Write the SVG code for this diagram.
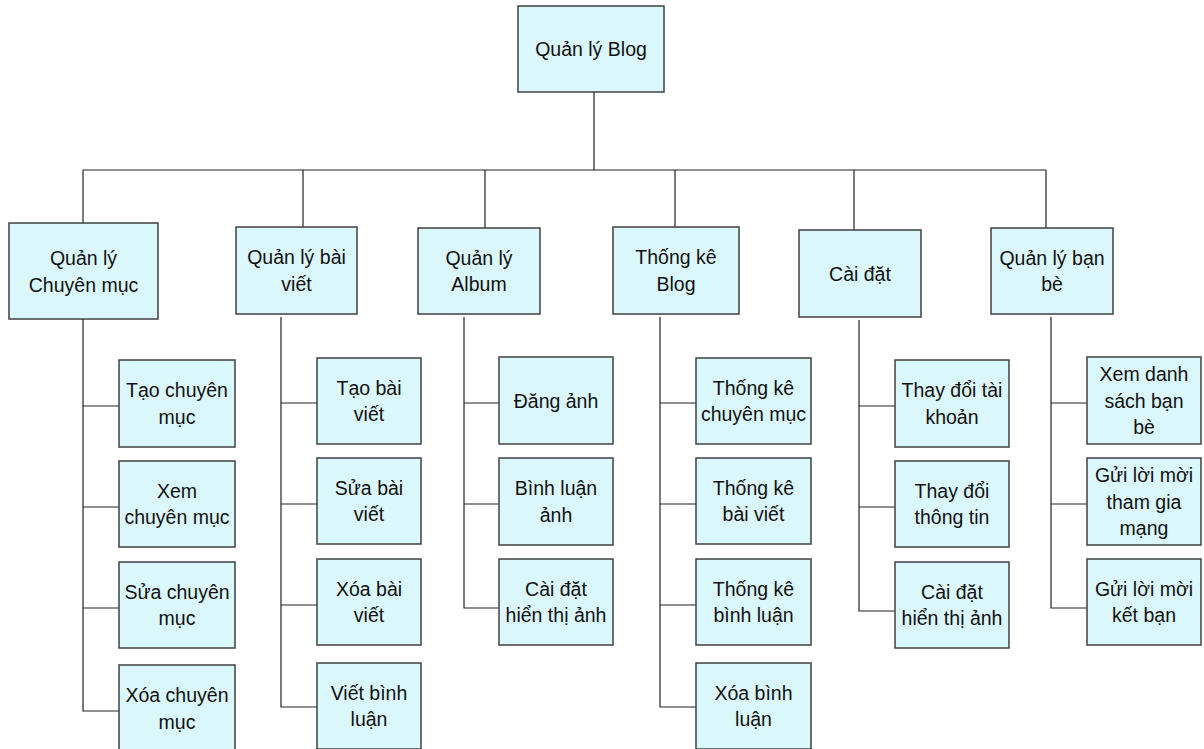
<svg xmlns="http://www.w3.org/2000/svg" width="1204" height="749" viewBox="0 0 1204 749">
  <style>
    .box { fill: #daf7fb; stroke: #404040; stroke-width: 1.5; }
    .lbl { font-family: "Liberation Sans", Arial, sans-serif; font-size: 19.5px; fill: #111; text-anchor: middle; }
    .wire { stroke: #222; stroke-width: 1.2; fill: none; }
    .trunk { stroke: #777; stroke-width: 2; fill: none; }
  </style>
  <rect width="1204" height="749" fill="#ffffff"/>

  <!-- connectors -->
  <g id="connectors">
    <line class="trunk" x1="594" y1="92" x2="594" y2="170"/>
    <line class="wire" x1="83" y1="170" x2="1046" y2="170"/>
    <!-- drops to level 1 -->
    <line class="wire" x1="83" y1="170" x2="83" y2="223"/>
    <line class="wire" x1="303" y1="170" x2="303" y2="227"/>
    <line class="wire" x1="485" y1="170" x2="485" y2="228"/>
    <line class="wire" x1="675" y1="170" x2="675" y2="227"/>
    <line class="wire" x1="854" y1="170" x2="854" y2="230"/>
    <line class="wire" x1="1046" y1="170" x2="1046" y2="228"/>
    <!-- Quản lý Chuyên mục -->
    <polyline class="wire" points="83,319 83,711 119,711"/>
    <line class="wire" x1="83" y1="406" x2="119" y2="406"/>
    <line class="wire" x1="83" y1="507" x2="119" y2="507"/>
    <line class="wire" x1="83" y1="608" x2="119" y2="608"/>
    <!-- Quản lý bài viết -->
    <polyline class="wire" points="281,317 281,707 317,707"/>
    <line class="wire" x1="281" y1="403" x2="317" y2="403"/>
    <line class="wire" x1="281" y1="504" x2="317" y2="504"/>
    <line class="wire" x1="281" y1="605" x2="317" y2="605"/>
    <!-- Quản lý Album -->
    <polyline class="wire" points="464,317 464,608 499,608"/>
    <line class="wire" x1="464" y1="403" x2="499" y2="403"/>
    <line class="wire" x1="464" y1="504" x2="499" y2="504"/>
    <!-- Thống kê Blog -->
    <polyline class="wire" points="660,317 660,707 696,707"/>
    <line class="wire" x1="660" y1="403" x2="696" y2="403"/>
    <line class="wire" x1="660" y1="504" x2="696" y2="504"/>
    <line class="wire" x1="660" y1="605" x2="696" y2="605"/>
    <!-- Cài đặt -->
    <polyline class="wire" points="859,320 859,611 895,611"/>
    <line class="wire" x1="859" y1="406" x2="895" y2="406"/>
    <line class="wire" x1="859" y1="507" x2="895" y2="507"/>
    <!-- Quản lý bạn bè -->
    <polyline class="wire" points="1051,317 1051,608 1087,608"/>
    <line class="wire" x1="1051" y1="403" x2="1087" y2="403"/>
    <line class="wire" x1="1051" y1="504" x2="1087" y2="504"/>
  </g>

  <!-- root -->
  <g id="root">
    <rect class="box" x="518" y="6" width="146" height="86"/>
    <text class="lbl" x="591" y="56">Quản lý Blog</text>
  </g>

  <!-- level 1 -->
  <g id="ql-chuyen-muc">
    <rect class="box" x="9" y="223" width="149" height="96"/>
    <text class="lbl" x="83.5" y="265">Quản lý</text>
    <text class="lbl" x="83.5" y="291.5">Chuyên mục</text>
  </g>
  <g id="ql-bai-viet">
    <rect class="box" x="236" y="227" width="121" height="87"/>
    <text class="lbl" x="296.5" y="264.25">Quản lý bài</text>
    <text class="lbl" x="296.5" y="290.75">viết</text>
  </g>
  <g id="ql-album">
    <rect class="box" x="418" y="228" width="122" height="86"/>
    <text class="lbl" x="479" y="264.75">Quản lý</text>
    <text class="lbl" x="479" y="291.25">Album</text>
  </g>
  <g id="thong-ke-blog">
    <rect class="box" x="613" y="227" width="126" height="87"/>
    <text class="lbl" x="676" y="264.25">Thống kê</text>
    <text class="lbl" x="676" y="290.75">Blog</text>
  </g>
  <g id="cai-dat">
    <rect class="box" x="799" y="230" width="122" height="87"/>
    <text class="lbl" x="860" y="280.5">Cài đặt</text>
  </g>
  <g id="ql-ban-be">
    <rect class="box" x="991" y="228" width="122" height="86"/>
    <text class="lbl" x="1052" y="264.75">Quản lý bạn</text>
    <text class="lbl" x="1052" y="291.25">bè</text>
  </g>

  <!-- Quản lý Chuyên mục: children -->
  <g id="tao-chuyen-muc">
    <rect class="box" x="119" y="360" width="116" height="87"/>
    <text class="lbl" x="177" y="397.25">Tạo chuyên</text>
    <text class="lbl" x="177" y="423.75">mục</text>
  </g>
  <g id="xem-chuyen-muc">
    <rect class="box" x="119" y="461" width="116" height="86"/>
    <text class="lbl" x="177" y="497.75">Xem</text>
    <text class="lbl" x="177" y="524.25">chuyên mục</text>
  </g>
  <g id="sua-chuyen-muc">
    <rect class="box" x="119" y="562" width="116" height="86"/>
    <text class="lbl" x="177" y="598.75">Sửa chuyên</text>
    <text class="lbl" x="177" y="625.25">mục</text>
  </g>
  <g id="xoa-chuyen-muc">
    <rect class="box" x="119" y="665" width="116" height="87"/>
    <text class="lbl" x="177" y="702.25">Xóa chuyên</text>
    <text class="lbl" x="177" y="728.75">mục</text>
  </g>

  <!-- Quản lý bài viết: children -->
  <g id="tao-bai-viet">
    <rect class="box" x="317" y="358" width="104" height="86"/>
    <text class="lbl" x="369" y="394.75">Tạo bài</text>
    <text class="lbl" x="369" y="421.25">viết</text>
  </g>
  <g id="sua-bai-viet">
    <rect class="box" x="317" y="458" width="104" height="86"/>
    <text class="lbl" x="369" y="494.75">Sửa bài</text>
    <text class="lbl" x="369" y="521.25">viết</text>
  </g>
  <g id="xoa-bai-viet">
    <rect class="box" x="317" y="559" width="104" height="86"/>
    <text class="lbl" x="369" y="595.75">Xóa bài</text>
    <text class="lbl" x="369" y="622.25">viết</text>
  </g>
  <g id="viet-binh-luan">
    <rect class="box" x="317" y="663" width="104" height="86"/>
    <text class="lbl" x="369" y="699.75">Viết bình</text>
    <text class="lbl" x="369" y="726.25">luận</text>
  </g>

  <!-- Quản lý Album: children -->
  <g id="dang-anh">
    <rect class="box" x="499" y="357" width="114" height="87"/>
    <text class="lbl" x="556" y="407.5">Đăng ảnh</text>
  </g>
  <g id="binh-luan-anh">
    <rect class="box" x="499" y="458" width="114" height="87"/>
    <text class="lbl" x="556" y="495.25">Bình luận</text>
    <text class="lbl" x="556" y="521.75">ảnh</text>
  </g>
  <g id="cai-dat-hien-thi-anh-album">
    <rect class="box" x="499" y="559" width="114" height="86"/>
    <text class="lbl" x="556" y="595.75">Cài đặt</text>
    <text class="lbl" x="556" y="622.25">hiển thị ảnh</text>
  </g>

  <!-- Thống kê Blog: children -->
  <g id="thong-ke-chuyen-muc">
    <rect class="box" x="696" y="358" width="115" height="86"/>
    <text class="lbl" x="753.5" y="394.75">Thống kê</text>
    <text class="lbl" x="753.5" y="421.25">chuyên mục</text>
  </g>
  <g id="thong-ke-bai-viet">
    <rect class="box" x="696" y="458" width="115" height="86"/>
    <text class="lbl" x="753.5" y="494.75">Thống kê</text>
    <text class="lbl" x="753.5" y="521.25">bài viết</text>
  </g>
  <g id="thong-ke-binh-luan">
    <rect class="box" x="696" y="559" width="115" height="86"/>
    <text class="lbl" x="753.5" y="595.75">Thống kê</text>
    <text class="lbl" x="753.5" y="622.25">bình luận</text>
  </g>
  <g id="xoa-binh-luan">
    <rect class="box" x="696" y="663" width="115" height="86"/>
    <text class="lbl" x="753.5" y="699.75">Xóa bình</text>
    <text class="lbl" x="753.5" y="726.25">luận</text>
  </g>

  <!-- Cài đặt: children -->
  <g id="thay-doi-tai-khoan">
    <rect class="box" x="895" y="360" width="114" height="87"/>
    <text class="lbl" x="952" y="397.25">Thay đổi tài</text>
    <text class="lbl" x="952" y="423.75">khoản</text>
  </g>
  <g id="thay-doi-thong-tin">
    <rect class="box" x="895" y="461" width="114" height="86"/>
    <text class="lbl" x="952" y="497.75">Thay đổi</text>
    <text class="lbl" x="952" y="524.25">thông tin</text>
  </g>
  <g id="cai-dat-hien-thi-anh">
    <rect class="box" x="895" y="562" width="114" height="86"/>
    <text class="lbl" x="952" y="598.75">Cài đặt</text>
    <text class="lbl" x="952" y="625.25">hiển thị ảnh</text>
  </g>

  <!-- Quản lý bạn bè: children -->
  <g id="xem-danh-sach-ban-be">
    <rect class="box" x="1087" y="357" width="114" height="87"/>
    <text class="lbl" x="1144" y="381">Xem danh</text>
    <text class="lbl" x="1144" y="407.5">sách bạn</text>
    <text class="lbl" x="1144" y="434">bè</text>
  </g>
  <g id="gui-loi-moi-tham-gia">
    <rect class="box" x="1087" y="458" width="114" height="87"/>
    <text class="lbl" x="1144" y="482">Gửi lời mời</text>
    <text class="lbl" x="1144" y="508.5">tham gia</text>
    <text class="lbl" x="1144" y="535">mạng</text>
  </g>
  <g id="gui-loi-moi-ket-ban">
    <rect class="box" x="1087" y="559" width="114" height="86"/>
    <text class="lbl" x="1144" y="595.75">Gửi lời mời</text>
    <text class="lbl" x="1144" y="622.25">kết bạn</text>
  </g>
</svg>
